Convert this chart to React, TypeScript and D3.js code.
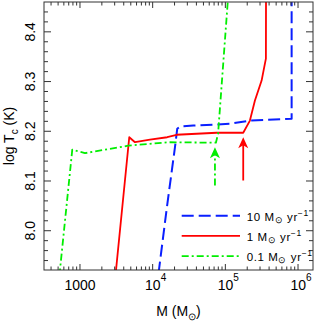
import * as d3 from 'd3'

// log10 of mass (Msun) and log Tc for each accretion rate
const rate10LogM = [4.051, 4.193, 4.307, 4.338, 4.376, 4.559, 5.063, 5.338, 5.912, 5.912]
const rate10LogT = [7.88, 8.044, 8.168, 8.205, 8.2095, 8.2115, 8.215, 8.2215, 8.225, 8.5]

const rate1LogM = [3.468, 3.678, 3.757, 3.963, 4.2, 4.33, 4.88, 5.246, 5.338, 5.407, 5.499, 5.535, 5.558, 5.56]
const rate1LogT = [7.88, 8.188, 8.178, 8.183, 8.188, 8.193, 8.197, 8.197, 8.2215, 8.262, 8.302, 8.329, 8.346, 8.5]

const rate01LogM = [2.696, 2.894, 3.069, 3.413, 3.664, 4.215, 4.87, 4.9, 5.053]
const rate01LogT = [7.88, 8.163, 8.156, 8.1646, 8.171, 8.178, 8.177, 8.195, 8.5]

// arrows marking the end of the flat phase
const arrowLogM = [4.857, 5.246]
const arrowTipT = [8.168, 8.188]
const arrowBaseT = [8.091, 8.101]

const xMajor = [1e3, 1e4, 1e5, 1e6]
const yMajor = [8.0, 8.1, 8.2, 8.3, 8.4]
const legendLabels = ['10', '1', '0.1']

const W = 314
const H = 323
const L = 44
const R = 313
const T = 2
const B = 270
const FONT = '"Liberation Sans", Arial, Helvetica, sans-serif'
const AXIS = '#333'

const COLORS = ['#0a1fff', '#ff0000', '#00ee00']
const DASHES = ['12,5', undefined, '7,3,2,3']
const WIDTHS = [2, 1.8, 1.8]

export default function App() {
  const x = d3.scaleLog().domain([10 ** 2.505, 10 ** 6.206]).range([L, R])
  const y = d3.scaleLinear().domain([7.921, 8.46]).range([B, T])

  const series = [
    d3.zip(rate10LogM, rate10LogT),
    d3.zip(rate1LogM, rate1LogT),
    d3.zip(rate01LogM, rate01LogT),
  ]
  const line = d3
    .line<number[]>()
    .x((d) => x(10 ** d[0]))
    .y((d) => y(d[1]))

  const xMinor: number[] = []
  for (let e = 2; e <= 6; e++) {
    for (let k = 2; k <= 9; k++) {
      const v = k * 10 ** e
      if (x(v) > L + 0.5 && x(v) < R - 0.5) xMinor.push(v)
    }
  }
  const yMinor = d3.range(7.94, 8.45, 0.02).filter((v) => !yMajor.some((m) => Math.abs(m - v) < 1e-6))

  const supExp = (v: number) => Math.round(Math.log10(v))

  return (
    <svg
      width={W}
      height={H}
      style={{ position: 'absolute', left: 0, top: 0, background: '#fff' }}
      fontFamily={FONT}
    >
      <defs>
        <clipPath id="plot">
          <rect x={L} y={T} width={R - L} height={B - T} />
        </clipPath>
      </defs>

      <g clipPath="url(#plot)">
        {series.map((s, i) => (
          <path
            key={i}
            d={line(s) ?? ''}
            fill="none"
            stroke={COLORS[i]}
            strokeWidth={WIDTHS[i]}
            strokeDasharray={DASHES[i]}
            strokeLinejoin="round"
          />
        ))}
      </g>

      {arrowLogM.map((m, i) => {
        const ax = x(10 ** m)
        const tip = y(arrowTipT[i])
        const base = y(arrowBaseT[i])
        const c = COLORS[2 - i]
        return (
          <g key={i}>
            <line
              x1={ax}
              x2={ax}
              y1={base}
              y2={tip + 6}
              stroke={c}
              strokeWidth={1.8}
              strokeDasharray={i === 0 ? '7,3,2,3' : undefined}
            />
            <path
              d={`M${ax},${tip} L${ax + 5},${tip + 11} L${ax},${tip + 8} L${ax - 5},${tip + 11} Z`}
              fill={c}
            />
          </g>
        )
      })}

      {/* frame */}
      <rect x={L} y={T} width={R - L} height={B - T} fill="none" stroke={AXIS} strokeWidth={1} />

      {xMajor.map((v) => (
        <g key={v}>
          <line x1={x(v)} x2={x(v)} y1={B} y2={B - 6} stroke={AXIS} />
          <line x1={x(v)} x2={x(v)} y1={T} y2={T + 6} stroke={AXIS} />
        </g>
      ))}
      {xMinor.map((v) => (
        <g key={v}>
          <line x1={x(v)} x2={x(v)} y1={B} y2={B - 3.5} stroke={AXIS} />
          <line x1={x(v)} x2={x(v)} y1={T} y2={T + 3.5} stroke={AXIS} />
        </g>
      ))}
      {yMajor.map((v) => (
        <g key={v}>
          <line x1={L} x2={L + 7} y1={y(v)} y2={y(v)} stroke={AXIS} />
          <line x1={R} x2={R - 7} y1={y(v)} y2={y(v)} stroke={AXIS} />
        </g>
      ))}
      {yMinor.map((v) => (
        <g key={v}>
          <line x1={L} x2={L + 4} y1={y(v)} y2={y(v)} stroke={AXIS} />
          <line x1={R} x2={R - 4} y1={y(v)} y2={y(v)} stroke={AXIS} />
        </g>
      ))}

      {/* x tick labels */}
      {xMajor.map((v) =>
        v === 1e3 ? (
          <text key={v} x={x(v)} y={290} fontSize={14} textAnchor="middle" fill="#000">
            1000
          </text>
        ) : (
          <text key={v} x={x(v) + 3} y={290} fontSize={14} textAnchor="middle" fill="#000">
            10
            <tspan fontSize={10} dy={-9}>
              {supExp(v)}
            </tspan>
          </text>
        ),
      )}

      {/* y tick labels, rotated */}
      {yMajor.map((v) => (
        <text
          key={v}
          transform={`translate(35,${y(v)}) rotate(-90)`}
          fontSize={14}
          textAnchor="middle"
          fill="#000"
        >
          {v.toFixed(1)}
        </text>
      ))}

      {/* axis titles */}
      <text x={(L + R) / 2} y={316} fontSize={14} textAnchor="middle" fill="#000">
        M (M
        <tspan fontSize={10} dy={4}>
          ⊙
        </tspan>
        <tspan dy={-4}>)</tspan>
      </text>
      <text transform={`translate(14,${(T + B) / 2}) rotate(-90)`} fontSize={14} textAnchor="middle" fill="#000">
        log T
        <tspan fontSize={10} dy={4}>
          c
        </tspan>
        <tspan dy={-4}> (K)</tspan>
      </text>

      {/* legend */}
      {legendLabels.map((lab, i) => {
        const ly = 215.7 + i * 20.2
        return (
          <g key={lab}>
            <line
              x1={181.7}
              x2={240}
              y1={ly}
              y2={ly}
              stroke={COLORS[i]}
              strokeWidth={WIDTHS[i]}
              strokeDasharray={DASHES[i]}
            />
            <text x={246.7} y={ly + 5} fontSize={11.5} letterSpacing={0.6} fill="#000">
              {lab} M
              <tspan fontSize={8.5} dy={2}>
                ⊙
              </tspan>
              <tspan dy={-2}> yr</tspan>
              <tspan fontSize={8.5} dy={-5}>
                −1
              </tspan>
            </text>
          </g>
        )
      })}
    </svg>
  )
}
